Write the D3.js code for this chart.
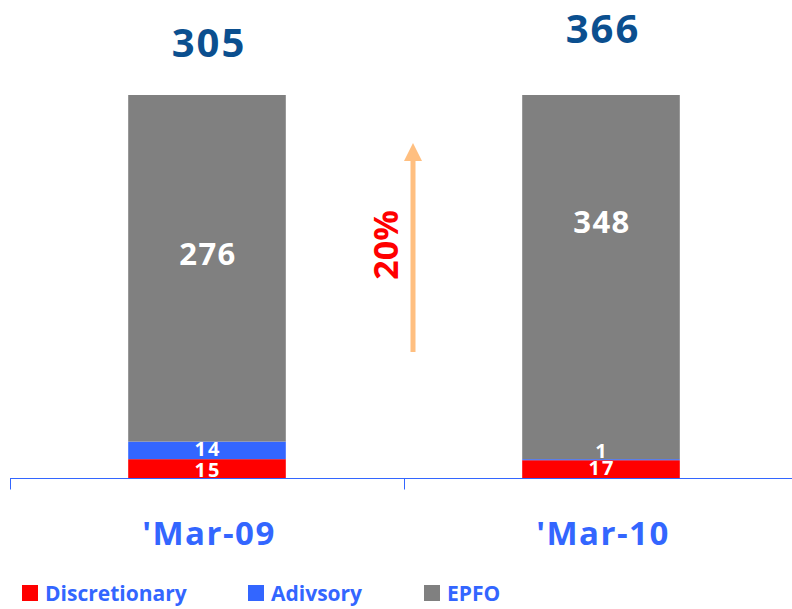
<!DOCTYPE html>
<html>
<head>
<meta charset="utf-8">
<script src="https://cdn.jsdelivr.net/npm/d3@7"></script>
<style>
  body { margin: 0; background: #fff; }
  svg { display: block; font-family: "Open Sans", "DejaVu Sans", sans-serif; }
</style>
</head>
<body>
<svg id="chart"></svg>
<script>
const categories = ["'Mar-09", "'Mar-10"];
const seriesNames = ["Discretionary", "Adivsory", "EPFO"];
const discretionary = [15, 17];
const advisory = [14, 1];
const epfo = [276, 348];
const totals = [305, 366];
const growthLabel = "20%";

const colors = ["#ff0000", "#3366ff", "#808080"];

const W = 792, H = 609;
const svg = d3.select("#chart").attr("width", W).attr("height", H);

const rows = categories.map((c, i) => ({
  cat: c,
  Discretionary: discretionary[i],
  Adivsory: advisory[i],
  EPFO: epfo[i]
}));

// 100% stacked layout (both bars reach the same top)
const stack = d3.stack().keys(seriesNames).offset(d3.stackOffsetExpand);
const series = stack(rows);

const x = d3.scaleBand().domain(categories).range([10, 798]);
const barW = x.bandwidth() * 0.4;
const y = d3.scaleLinear().domain([0, 1]).range([478, 95]);

const g = svg.append("g");

series.forEach((s, si) => {
  g.selectAll(".bar-" + si)
    .data(s)
    .join("rect")
    .attr("x", d => x(d.data.cat) + (x.bandwidth() - barW) / 2)
    .attr("width", barW)
    .attr("y", d => y(d[1]))
    .attr("height", d => y(d[0]) - y(d[1]))
    .attr("fill", colors[si]);
});

// segment labels
const cx = c => x(c) + x.bandwidth() / 2;
const epfoShift = [-15, -56];
const smallLabelY = [[469, 467], [448, 450]];

rows.forEach((r, i) => {
  const s = series[2][i];
  g.append("text")
    .attr("x", cx(r.cat) + 1).attr("y", (y(s[0]) + y(s[1])) / 2 + epfoShift[i])
    .attr("text-anchor", "middle").attr("dominant-baseline", "central")
    .attr("fill", "#fff").attr("font-weight", "bold").attr("font-size", 31)
    .attr("letter-spacing", 1.5)
    .text(r.EPFO);
  [r.Discretionary, r.Adivsory].forEach((v, k) => {
    g.append("text")
      .attr("x", cx(r.cat) + 1).attr("y", smallLabelY[k][i])
      .attr("text-anchor", "middle").attr("dominant-baseline", "central")
      .attr("fill", "#fff").attr("font-weight", "bold").attr("font-size", 20)
      .attr("letter-spacing", 2)
      .text(v);
  });
});

// totals
const totalY = [57, 43];
rows.forEach((r, i) => {
  g.append("text")
    .attr("x", cx(r.cat) + 2).attr("y", totalY[i])
    .attr("text-anchor", "middle")
    .attr("fill", "#0b4f8f").attr("font-weight", "bold").attr("font-size", 40)
    .attr("letter-spacing", 2)
    .text(totals[i]);
});

// axis
const axis = d3.axisBottom(x).tickSize(0).tickFormat("");
const ax = svg.append("g").attr("transform", "translate(0,478.5)").call(axis);
ax.select(".domain").attr("stroke", "#3366ff").attr("d", "M10,0H798");
[10, 404].forEach(t => {
  ax.append("line").attr("x1", t + 0.5).attr("x2", t + 0.5).attr("y1", 0).attr("y2", 11)
    .attr("stroke", "#3366ff");
});
categories.forEach(c => {
  svg.append("text")
    .attr("x", cx(c) + 2).attr("y", 545)
    .attr("text-anchor", "middle")
    .attr("fill", "#3366ff").attr("font-weight", "bold").attr("font-size", 33)
    .attr("letter-spacing", 1.5)
    .text(c);
});

// growth arrow
const arrowX = 413;
svg.append("line")
  .attr("x1", arrowX).attr("x2", arrowX).attr("y1", 352).attr("y2", 158)
  .attr("stroke", "#ffbf80").attr("stroke-width", 5);
svg.append("path")
  .attr("d", `M${arrowX},143 L${arrowX + 9},161 L${arrowX - 9},161 Z`)
  .attr("fill", "#ffbf80");
svg.append("text")
  .attr("transform", "translate(385,245) rotate(-90)")
  .attr("text-anchor", "middle").attr("dominant-baseline", "central")
  .attr("fill", "#ff0000").attr("font-weight", "bold").attr("font-size", 34)
  .text(growthLabel);

// legend
const legendX = [22, 248, 424];
const lg = svg.append("g");
seriesNames.forEach((n, i) => {
  lg.append("rect").attr("x", legendX[i]).attr("y", 585).attr("width", 16).attr("height", 16)
    .attr("fill", colors[i]);
  lg.append("text").attr("x", legendX[i] + 23).attr("y", 601)
    .attr("fill", "#3366ff").attr("font-weight", "bold").attr("font-size", 21)
    .text(n);
});
</script>
</body>
</html>
